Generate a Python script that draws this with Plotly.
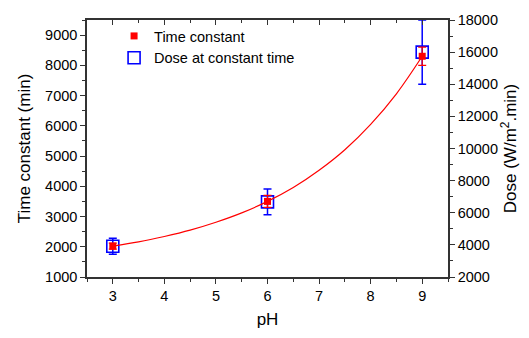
import plotly.graph_objects as go

ph = [3, 6, 9]
time_const = [2020, 3500, 8300]
time_err = [100, 200, 300]
dose = [3910, 6680, 16000]
dose_err = [500, 800, 2000]

fit_ph = [3, 3.5, 4, 4.5, 5, 5.5, 6, 6.5, 7, 7.5, 8, 8.5, 9]
fit_time = [2020, 2160, 2340, 2550, 2810, 3120, 3500, 3960, 4530, 5210, 6050, 7060, 8300]

FONT = "Liberation Sans, Arial, sans-serif"
AX = "#333333"

fig = go.Figure()

# Dose (right axis, primary y so it is drawn underneath)
fig.add_trace(go.Scatter(
    x=ph, y=dose, mode="markers", name="Dose at constant time",
    xaxis="x", yaxis="y", legendrank=2,
    marker=dict(symbol="square-open", size=12, color="#0000ff", line=dict(width=1.6, color="#0000ff")),
    error_y=dict(type="data", array=dose_err, color="#0000ff", thickness=1.5, width=4),
))

# Fit curve (left axis)
fig.add_trace(go.Scatter(
    x=fit_ph, y=fit_time, mode="lines", showlegend=False,
    xaxis="x", yaxis="y2",
    line=dict(color="#ff0000", width=1.2, shape="spline"),
))

# Time constant (left axis)
fig.add_trace(go.Scatter(
    x=ph, y=time_const, mode="markers", name="Time constant",
    xaxis="x", yaxis="y2", legendrank=1,
    marker=dict(symbol="square", size=7, color="#ff0000"),
    error_y=dict(type="data", array=time_err, color="#ff0000", thickness=1.2, width=4),
))

# dummy trace for top mirror axis
fig.add_trace(go.Scatter(x=[None], y=[None], xaxis="x2", yaxis="y", showlegend=False, hoverinfo="skip"))

fig.update_layout(
    width=529, height=338,
    margin=dict(l=87, r=81, t=12, b=58),
    paper_bgcolor="white", plot_bgcolor="white",
    font=dict(family=FONT, size=14, color="black"),
    showlegend=True,
    legend=dict(x=0.075, y=1.0, xanchor="left", yanchor="top",
                bgcolor="rgba(0,0,0,0)", font=dict(size=14.5, family=FONT),
                tracegroupgap=0, itemsizing="trace"),
    xaxis=dict(
        range=[2.5, 9.5], tickmode="linear", tick0=3, dtick=1,
        ticks="outside", ticklen=5, tickwidth=1.2, tickcolor=AX,
        showline=True, linecolor=AX, linewidth=1.5,
        showgrid=False, zeroline=False,
        minor=dict(dtick=0.5, ticks="outside", ticklen=3, tickcolor=AX, tickwidth=1),
        title=dict(text="pH", font=dict(size=17), standoff=10),
        tickfont=dict(size=14.5),
    ),
    xaxis2=dict(
        range=[2.5, 9.5], overlaying="x", side="top", anchor="y",
        tickmode="linear", tick0=3, dtick=1,
        ticks="inside", ticklen=5, tickwidth=1.2, tickcolor=AX,
        showline=True, linecolor=AX, linewidth=1.5,
        showticklabels=False, showgrid=False, zeroline=False,
        minor=dict(dtick=0.5, ticks="inside", ticklen=3, tickcolor=AX, tickwidth=1),
    ),
    yaxis=dict(
        range=[2000, 18000], side="right", tickmode="linear", tick0=2000, dtick=2000,
        tickformat="d",
        ticks="outside", ticklen=5, tickwidth=1.2, tickcolor=AX,
        showline=True, linecolor=AX, linewidth=1.5,
        showgrid=False, zeroline=False,
        minor=dict(dtick=1000, ticks="outside", ticklen=3, tickcolor=AX, tickwidth=1),
        title=dict(text="Dose (W/m<sup>2</sup>.min)", font=dict(size=17), standoff=6),
        tickfont=dict(size=14.5),
    ),
    yaxis2=dict(
        range=[1000, 9500], side="left", overlaying="y", anchor="x",
        tickmode="linear", tick0=1000, dtick=1000, tickformat="d",
        ticks="outside", ticklen=5, tickwidth=1.2, tickcolor=AX,
        showline=True, linecolor=AX, linewidth=1.5,
        showgrid=False, zeroline=False,
        minor=dict(dtick=500, ticks="outside", ticklen=3, tickcolor=AX, tickwidth=1),
        title=dict(text="Time constant (min)", font=dict(size=17), standoff=10),
        tickfont=dict(size=14.5),
    ),
)

fig.write_html("out.html")
